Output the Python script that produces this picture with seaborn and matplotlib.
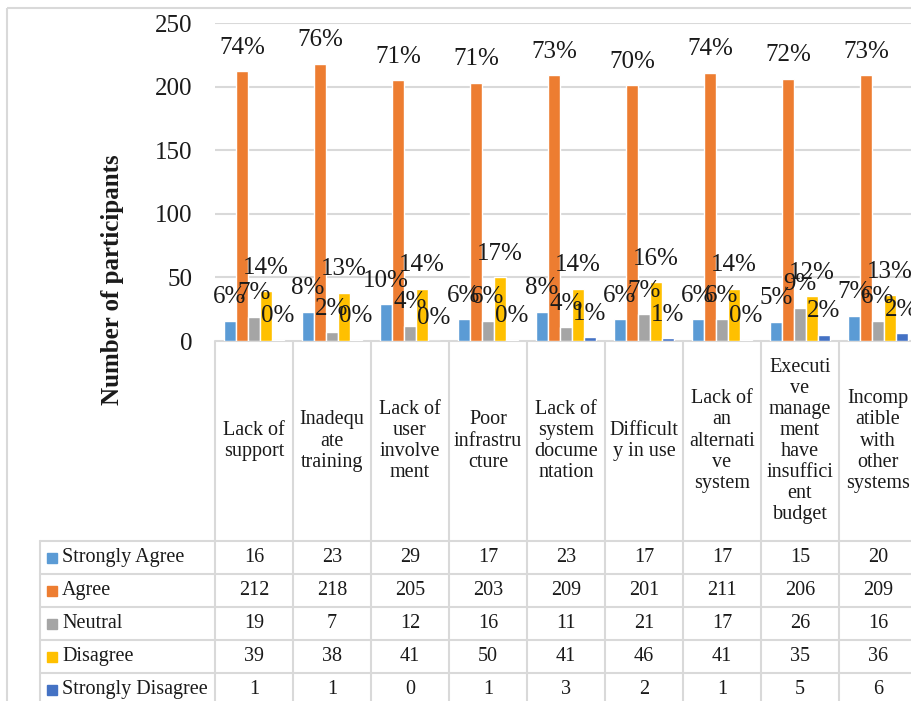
import numpy as np
import pandas as pd
import matplotlib
matplotlib.use("Agg")
import matplotlib.pyplot as plt
import matplotlib.transforms as mtransforms
from matplotlib.patches import Rectangle
import seaborn as sns

# Barrier categories (wrapped the way they appear in the table header cells)
barriers = [
    "Lack of\nsupport",
    "Inadequ\nate\ntraining",
    "Lack of\nuser\ninvolve\nment",
    "Poor\ninfrastru\ncture",
    "Lack of\nsystem\ndocume\nntation",
    "Difficult\ny in use",
    "Lack of\nan\nalternati\nve\nsystem",
    "Executi\nve\nmanage\nment\nhave\ninsuffici\nent\nbudget",
    "Incomp\natible\nwith\nother\nsystems",
]

responses = ["Strongly Agree", "Agree", "Neutral", "Disagree", "Strongly Disagree"]

strongly_agree = [16, 23, 29, 17, 23, 17, 17, 15, 20]
agree = [212, 218, 205, 203, 209, 201, 211, 206, 209]
neutral = [19, 7, 12, 16, 11, 21, 17, 26, 16]
disagree = [39, 38, 41, 50, 41, 46, 41, 35, 36]
strongly_disagree = [1, 1, 0, 1, 3, 2, 1, 5, 6]

y_ticks = [0, 50, 100, 150, 200, 250]

colors = ["#5B9BD5", "#ED7D31", "#A5A5A5", "#FFC000", "#4472C4"]

series = [strongly_agree, agree, neutral, disagree, strongly_disagree]
totals = np.sum(np.array(series), axis=0)

df = pd.DataFrame(
    [(b, r, v) for r, vals in zip(responses, series) for b, v in zip(barriers, vals)],
    columns=["barrier", "response", "count"],
)

sns.set_theme(style="white")
plt.rcParams["font.family"] = ["Liberation Serif", "DejaVu Serif"]
TXT = "#1a1a1a"
GRID = "#D9D9D9"

W, H = 911, 701
fig = plt.figure(figsize=(W / 100, H / 100), dpi=100)
fig.patch.set_facecolor("white")

# chart area in pixel terms
left_px, right_px, top_px, base_px = 215, 917, 23, 341
ax = fig.add_axes([left_px / W, (H - base_px) / H, (right_px - left_px) / W, (base_px - top_px) / H])

sns.barplot(
    data=df, x="barrier", y="count", hue="response",
    order=barriers, hue_order=responses, palette=colors,
    width=0.77, saturation=1, legend=False, ax=ax,
)

ax.set_xlim(-0.5, len(barriers) - 0.5)
ax.set_ylim(0, 250)
ax.set_yticks(y_ticks)
ax.set_yticklabels([str(t) for t in y_ticks], fontsize=18, color=TXT)
ax.tick_params(axis="y", length=0, pad=16)
ax.set_xticks([])
ax.set_xlabel("")
ax.set_ylabel("")
for s in ax.spines.values():
    s.set_visible(False)
ax.yaxis.grid(True, color=GRID, lw=1.5)
ax.set_axisbelow(True)

# percentage of all answers for each barrier above every bar
for cont, vals in zip(ax.containers, series):
    labs = [f"{int(np.floor(v / t * 100 + 0.5))}%" for v, t in zip(vals, totals)]
    ax.bar_label(cont, labels=labs, padding=9, fontsize=18, color=TXT)

# overlay in pixel coordinates for the data table and frame
tab = fig.add_axes([0, 0, 1, 1], zorder=-1)
tab.set_xlim(0, W)
tab.set_ylim(H, 0)
tab.axis("off")
tab.patch.set_alpha(0)

# chart frame
tab.add_patch(Rectangle((7, 8), W + 20, H + 20, fill=False, ec=GRID, lw=1.5))

# x in category units, y in pixels
bt = mtransforms.blended_transform_factory(ax.transData, tab.transData)

header_bottom = 541
row_h = 33
table_left = 40
n = len(barriers)

# column separators
for i in range(n + 1):
    tab.plot([i - 0.5, i - 0.5], [base_px, H + 10], color=GRID, lw=1.5,
             transform=bt, solid_capstyle="butt")
# table top line
tab.plot([-0.5, n - 0.5], [base_px, base_px], color=GRID, lw=1.5, transform=bt)
# horizontal row lines
for k in range(len(responses)):
    y = header_bottom + k * row_h
    tab.plot([table_left, right_px], [y, y], color=GRID, lw=1.5)
tab.plot([table_left, table_left], [header_bottom, H + 10], color=GRID, lw=1.5)

# header cells: barrier names
for i, b in enumerate(barriers):
    tab.text(i, (base_px + header_bottom) / 2, b, transform=bt, ha="center",
             va="center", fontsize=14.5, color=TXT, linespacing=1.15,
             multialignment="center")

# legend keys, names and values
for k, (r, c, vals) in enumerate(zip(responses, colors, series)):
    yc = header_bottom + k * row_h + row_h / 2
    tab.add_patch(Rectangle((47, yc - 5), 10, 10, color=c))
    tab.text(62, yc, r, ha="left", va="center", fontsize=14.5, color=TXT)
    for i, v in enumerate(vals):
        tab.text(i, yc, str(v), transform=bt, ha="center", va="center",
                 fontsize=14.5, color=TXT)

tab.text(113, 280, "Number of participants", rotation=90, ha="center",
         va="center", fontsize=18, fontweight="bold", color=TXT)

fig.savefig("out.png", dpi=100)
